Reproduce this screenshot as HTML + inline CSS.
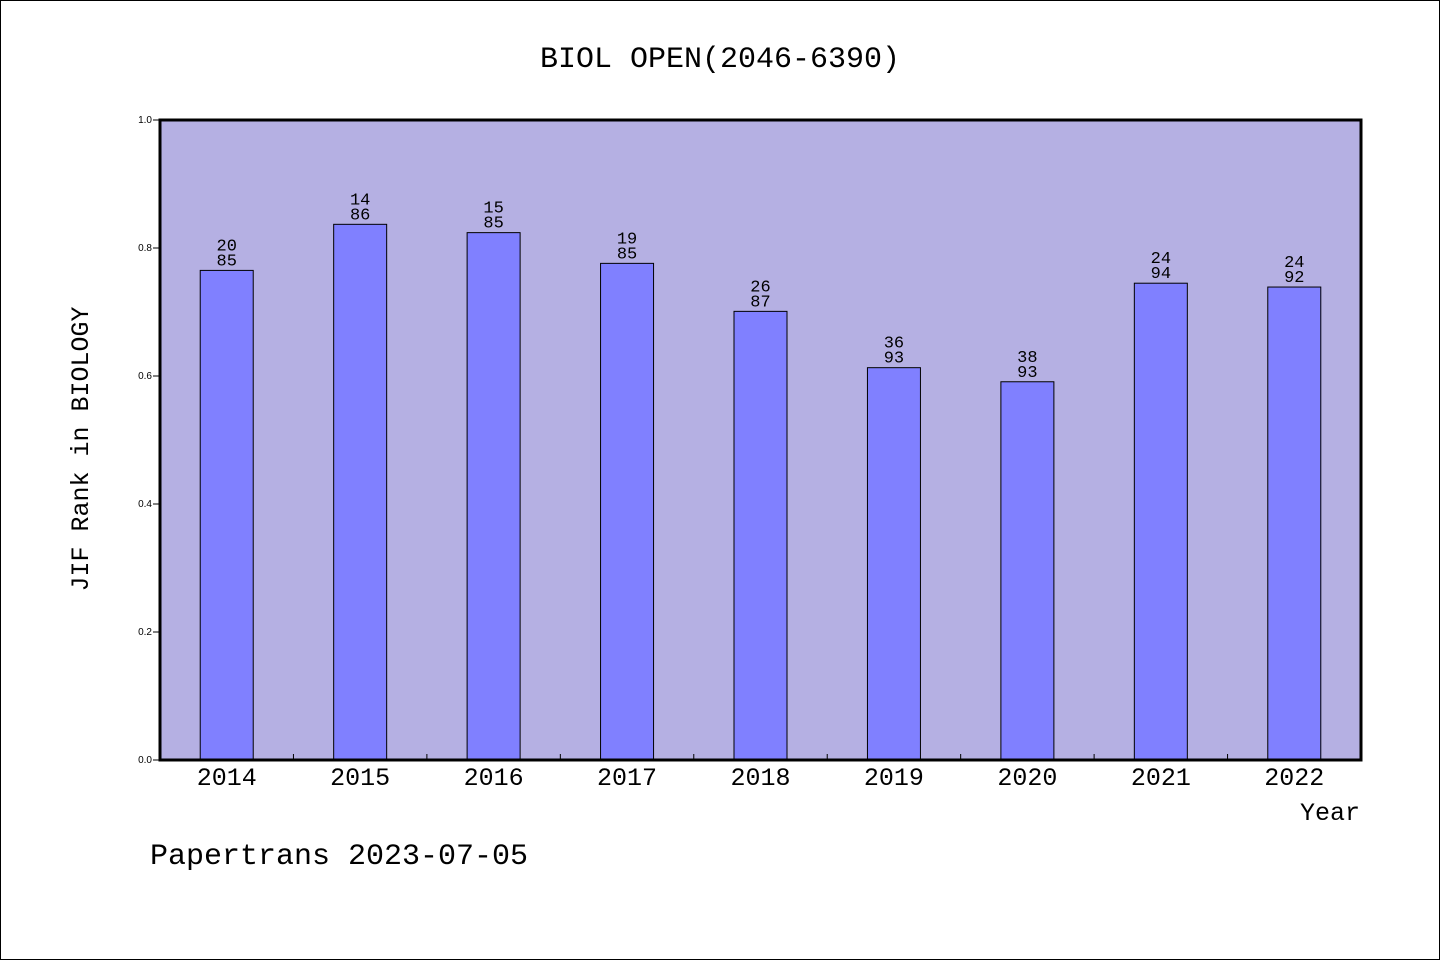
<!DOCTYPE html>
<html><head><meta charset="utf-8"><style>
html,body{margin:0;padding:0;background:#fff}
svg{display:block}
text{font-family:"Liberation Mono","DejaVu Sans Mono",monospace;fill:#000}
</style></head><body>
<svg id="chart" width="1440" height="960">
<rect x="0.5" y="0.5" width="1439" height="959" fill="#fff" stroke="#000"/>
<text x="720" y="67" font-size="30" text-anchor="middle">BIOL OPEN(2046-6390)</text>
<rect x="160" y="120" width="1201" height="640" fill="#b5b0e3"/>
<g id="bars"></g>
<rect x="160" y="120" width="1201" height="640" fill="none" stroke="#000" stroke-width="3"/>
<g id="axes"></g>
<text transform="translate(88,449) rotate(-90)" font-size="25" text-anchor="middle">JIF Rank in BIOLOGY</text>
<text x="1360" y="820" font-size="25" text-anchor="end">Year</text>
<text x="150" y="864" font-size="30">Papertrans 2023-07-05</text>
</svg>
<script>
const categories=["2014","2015","2016","2017","2018","2019","2020","2021","2022"];
const values=[0.765,0.837,0.824,0.776,0.701,0.613,0.591,0.745,0.739];
const ranks=["20","14","15","19","26","36","38","24","24"];
const totals=["85","86","85","85","87","93","93","94","92"];
const yTicks=[0,0.2,0.4,0.6,0.8,1.0];
const yTickLabels=["0.0","0.2","0.4","0.6","0.8","1.0"];
const NS="http://www.w3.org/2000/svg";
const L=160,R=1361,T=120,B=760;
const bw=(R-L)/categories.length;
const y=v=>B-(v)*(B-T);
const xc=i=>L+bw*(i+0.5);
function mk(tag,attrs,parent,txt){const e=document.createElementNS(NS,tag);for(const k in attrs)e.setAttribute(k,attrs[k]);if(txt!==undefined)e.textContent=txt;parent.appendChild(e);return e;}
const gb=document.getElementById('bars'),ga=document.getElementById('axes');
categories.forEach((c,i)=>{
  const r=mk('rect',{x:xc(i)-26.5,y:y(values[i]),width:53,height:B-y(values[i]),fill:'#8080ff',stroke:'#000','stroke-width':1},gb);
  
  
  const t1=mk('text',{x:xc(i),y:y(values[i])-20,'font-size':17,'text-anchor':'middle'},gb,ranks[i]);
  
  
  const t2=mk('text',{x:xc(i),y:y(values[i])-5,'font-size':17,'text-anchor':'middle'},gb,totals[i]);
  
  
  const xl=mk('text',{x:xc(i),y:785,'font-size':25,'text-anchor':'middle'},ga,c);
  
  
  if(i>0){const tk=mk('line',{x1:L+bw*i,x2:L+bw*i,y1:B,y2:B-6,stroke:'#000'},ga);
  
  }
});
yTicks.forEach((v,i)=>{
  const tk=mk('line',{x1:L-7,x2:L,y1:y(v),y2:y(v),stroke:'#000'},ga);
  
  
  const tl=mk('text',{x:L-8,y:y(v)+3,'font-size':10,'text-anchor':'end',style:'font-family:"Liberation Sans",sans-serif'},ga,yTickLabels[i]);
  
  
});
</script>
</body></html>
